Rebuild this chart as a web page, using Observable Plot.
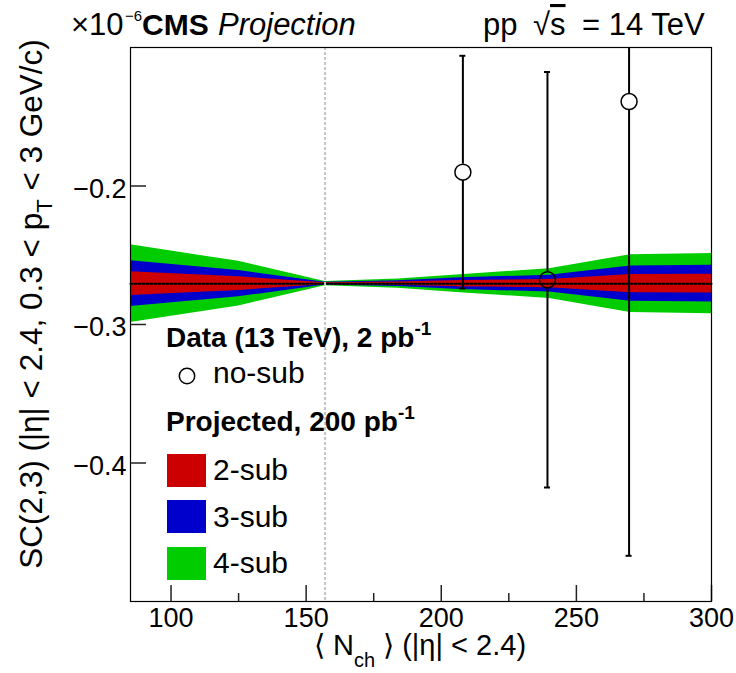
<!DOCTYPE html>
<html><head><meta charset="utf-8">
<script src="https://cdn.jsdelivr.net/npm/d3@7"></script>
<script src="https://cdn.jsdelivr.net/npm/@observablehq/plot@0.6"></script>
<style>body{margin:0;background:#fff} #chart{width:736px;height:673px}</style>
</head><body><div id="chart"></div>
<script>
// ---- data ----
const knotsX   = [85, 125, 157, 184, 207, 240, 270, 300];
const bandMean = [-0.2705, -0.2705, -0.2705, -0.2705, -0.2705, -0.2705, -0.2705, -0.2705];
const err2sub  = [0.0085, 0.0049, 0.0006, 0.0011, 0.0022, 0.0030, 0.0066, 0.0068];
const err3sub  = [0.0165, 0.0095, 0.0010, 0.0020, 0.0043, 0.0060, 0.0127, 0.0133];
const err4sub  = [0.0280, 0.0161, 0.0015, 0.0033, 0.0065, 0.0108, 0.0208, 0.0218];
const dataX    = [208, 239.3, 269.5];
const dataY    = [-0.190, -0.2677, -0.139];
const dataErr  = [0.084, 0.150, 0.328];
const refNch   = [157];
const xMajor = [100, 150, 200, 250, 300];
const xMinor = [125, 175, 225, 275];
const yMajor = [-0.2, -0.3, -0.4];

const RED = "#cc0000", BLUE = "#0000cc", GREEN = "#00cc00";
const FONT = "'Liberation Sans', Arial, Helvetica, sans-serif";

const bands = knotsX.map((x, i) => ({x, c: bandMean[i], r: err2sub[i], b: err3sub[i], g: err4sub[i]}));
const pts = dataX.map((x, i) => ({x, y: dataY[i], e: dataErr[i]}));

const W = 736, H = 673, mL = 130, mR = 25, mT = 47, mB = 72;
const pw = W - mL - mR, ph = H - mT - mB;
const R = 8;

const svg = Plot.plot({
  width: W, height: H,
  marginLeft: mL, marginRight: mR, marginTop: mT, marginBottom: mB,
  x: {domain: [85, 300], axis: null},
  y: {domain: [-0.5, -0.1], axis: null},
  style: {fontFamily: FONT, background: "white", color: "black"},
  marks: [
    Plot.areaY(bands, {x: "x", y1: d => d.c - d.g, y2: d => d.c + d.g, fill: GREEN}),
    Plot.areaY(bands, {x: "x", y1: d => d.c - d.b, y2: d => d.c + d.b, fill: BLUE}),
    Plot.areaY(bands, {x: "x", y1: d => d.c - d.r, y2: d => d.c + d.r, fill: RED}),
    Plot.lineY(bands, {x: "x", y: "c", stroke: "black", strokeWidth: 2, strokeDasharray: "2,2"}),
    Plot.ruleX(refNch, {x: d => d, stroke: "#c4c4c4", strokeWidth: 2, strokeDasharray: "3,2"}),
    // ticks (inside the frame)
    Plot.ruleX(xMajor, {x: d => d, insetTop: ph - 16, stroke: "#222", strokeWidth: 1.5}),
    Plot.ruleX(xMinor, {x: d => d, insetTop: ph - 8, stroke: "#222", strokeWidth: 1.5}),
    Plot.ruleY(yMajor, {y: d => d, insetRight: pw - 16, stroke: "#222", strokeWidth: 1.5}),
    // tick labels
    Plot.text(xMajor, {x: d => d, frameAnchor: "bottom", lineAnchor: "top", dy: 6, text: d => String(d), fontSize: 27}),
    Plot.text(yMajor, {y: d => d, frameAnchor: "left", textAnchor: "end", dx: -4, dy: 3, text: d => "\u2212" + Math.abs(d).toFixed(1), fontSize: 27}),
    // error bars
    Plot.ruleX(pts, {x: "x", y1: d => d.y + d.e, y2: "y", insetBottom: R, stroke: "black", strokeWidth: 2, clip: true}),
    Plot.ruleX(pts, {x: "x", y1: "y", y2: d => d.y - d.e, insetTop: R, stroke: "black", strokeWidth: 2, clip: true}),
    Plot.ruleY(pts, {y: d => d.y + d.e, x1: "x", x2: "x", insetLeft: -3, insetRight: -3, stroke: "black", strokeWidth: 2, clip: true}),
    Plot.ruleY(pts, {y: d => d.y - d.e, x1: "x", x2: "x", insetLeft: -3, insetRight: -3, stroke: "black", strokeWidth: 2, clip: true}),
    Plot.dot(pts, {x: "x", y: "y", r: R, stroke: "black", strokeWidth: 1.5, fill: "none"}),
    Plot.frame({stroke: "black", strokeWidth: 1.2})
  ]
});
document.getElementById("chart").appendChild(svg);

// ---- text annotations ----
const s = d3.select(svg);
function txt(x, y, size, weight, style) {
  return s.append("text").attr("x", x).attr("y", y)
    .attr("text-anchor", "start")
    .attr("font-family", FONT).attr("font-size", size)
    .attr("font-weight", weight || "normal").attr("font-style", style || "normal").attr("fill", "black");
}
// top-left
txt(71, 35, 31).text("\u00d710");
txt(125, 21, 15).text("\u22126");
txt(142, 35, 30, "bold").text("CMS");
txt(218, 35, 31, "normal", "italic").text("Projection");
// top-right
txt(483, 35, 31).text("pp");
{
  const t = txt(533, 35, 31);
  t.append("tspan").text("\u221a");
  t.append("tspan").style("text-decoration", "overline").text("s");
}
txt(582, 35, 31).text("= 14 TeV");
// x title
{
  const t = txt(420, 655, 29).attr("text-anchor", "middle");
  t.append("tspan").text("\u27e8 N");
  t.append("tspan").attr("dy", 12).attr("font-size", 20).text("ch");
  t.append("tspan").attr("dy", -12).text(" \u27e9 (|\u03b7| < 2.4)");
}
// y title
{
  const t = s.append("text").attr("transform", "translate(42,304) rotate(-90)")
    .attr("font-family", FONT).attr("font-size", 31.5).attr("text-anchor", "middle").attr("fill", "black");
  t.append("tspan").text("SC(2,3) (|\u03b7| < 2.4, 0.3 < p");
  t.append("tspan").attr("dy", 10).attr("font-size", 22).text("T");
  t.append("tspan").attr("dy", -10).text(" < 3 GeV/c)");
}
// legend
{
  const t = txt(166, 347, 28, "bold");
  t.append("tspan").text("Data (13 TeV), 2 pb");
  t.append("tspan").attr("dy", -12).attr("font-size", 19).text("-1");
  s.append("circle").attr("cx", 187).attr("cy", 376).attr("r", 7.7)
    .attr("fill", "white").attr("stroke", "black").attr("stroke-width", 1.5);
  txt(213, 383, 30).text("no-sub");
  const t2 = txt(166, 431, 28, "bold");
  t2.append("tspan").text("Projected, 200 pb");
  t2.append("tspan").attr("dy", -12).attr("font-size", 19).text("-1");
  const items = [["2-sub", RED, 454, 480], ["3-sub", BLUE, 500, 527], ["4-sub", GREEN, 547, 573]];
  for (const [lab, col, ry, by] of items) {
    s.append("rect").attr("x", 167).attr("y", ry).attr("width", 39).attr("height", 33).attr("fill", col);
    txt(213, by, 30).text(lab);
  }
}
</script>
</body></html>
